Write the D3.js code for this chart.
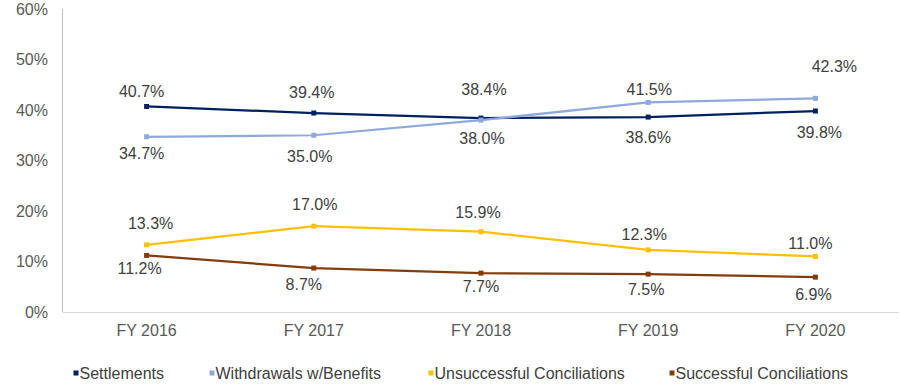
<!DOCTYPE html>
<html><head><meta charset="utf-8">
<script src="https://cdn.jsdelivr.net/npm/d3@7/dist/d3.min.js"></script>
<style>body{margin:0;background:#fff;}svg{display:block;font-family:"Liberation Sans",Arial,sans-serif;}</style>
</head><body><svg id="c" width="900" height="385"></svg>
<script>
const categories = ["FY 2016","FY 2017","FY 2018","FY 2019","FY 2020"];
const seriesNames = ["Settlements","Withdrawals w/Benefits","Unsuccessful Conciliations","Successful Conciliations"];
const settlements = [40.7,39.4,38.4,38.6,39.8];
const withdrawals = [34.7,35.0,38.0,41.5,42.3];
const unsuccessful = [13.3,17.0,15.9,12.3,11.0];
const successful = [11.2,8.7,7.7,7.5,6.9];
const yTicks = [0,10,20,30,40,50,60];
const colors = ["#002060","#8EA9DB","#FFC000","#843C0C"];

// label layout (pixel offsets of each data label from its point)
const labelDx = [[-5,-2,3,0,4],[-5,-4,1,1,19],[4,1,-3,-4,-5],[-7,-10,0,-2,-2]];
const labelDy = [[-15,-21,-29,20,21],[17,21,18,-13,-32],[-21,-22,-19,-15,-13],[13,16,13,15,17]];

const series = [
  {name:seriesNames[0], values:settlements, color:colors[0]},
  {name:seriesNames[1], values:withdrawals, color:colors[1]},
  {name:seriesNames[2], values:unsuccessful, color:colors[2]},
  {name:seriesNames[3], values:successful, color:colors[3]}
];

const svg = d3.select("#c");
const pL = 63, pR = 899, pT = 9, pB = 312;
const x = d3.scalePoint().domain(categories).range([pL, pR]).padding(0.5);
const y = d3.scaleLinear().domain([0,60]).range([pB, pT]);

// axes
svg.append("line").attr("x1",pL-0.5).attr("x2",pL-0.5).attr("y1",pT).attr("y2",pB)
  .attr("stroke","#bfbfbf").attr("stroke-width",1);
svg.append("line").attr("x1",pL).attr("x2",pR).attr("y1",pB+0.5).attr("y2",pB+0.5)
  .attr("stroke","#d9d9d9").attr("stroke-width",1);

svg.selectAll(".yt").data(yTicks).enter().append("text")
  .attr("x",48).attr("y",d=>y(d)).attr("dy","0.35em").attr("text-anchor","end")
  .attr("font-size",16).attr("fill","#595959").text(d=>d+"%");

svg.selectAll(".xt").data(categories).enter().append("text")
  .attr("x",d=>x(d)).attr("y",330).attr("dy","0.35em").attr("text-anchor","middle")
  .attr("font-size",16).attr("fill","#595959").text(d=>d);

const line = d3.line().x((d,i)=>x(categories[i])).y(d=>y(d));

series.forEach((s,si)=>{
  const g = svg.append("g");
  g.append("path").datum(s.values).attr("d",line).attr("fill","none")
    .attr("stroke",s.color).attr("stroke-width",2.25);
  g.selectAll("rect").data(s.values).enter().append("rect")
    .attr("x",(d,i)=>x(categories[i])-2.5).attr("y",d=>y(d)-2.5)
    .attr("width",5).attr("height",5).attr("fill",s.color);
  g.selectAll("text").data(s.values).enter().append("text")
    .attr("x",(d,i)=>x(categories[i])+labelDx[si][i]).attr("y",(d,i)=>y(d)+labelDy[si][i])
    .attr("dy","0.35em").attr("text-anchor","middle").attr("font-size",16)
    .attr("fill","#404040").text(d=>d.toFixed(1)+"%");
});

// legend
const legX = [76,212,431,672];
series.forEach((s,i)=>{
  svg.append("rect").attr("x",legX[i]-2.5).attr("y",373-2.5).attr("width",5).attr("height",5).attr("fill",s.color);
  svg.append("text").attr("x",legX[i]+3.5).attr("y",373).attr("dy","0.35em")
    .attr("font-size",16).attr("fill","#404040").text(s.name);
});
</script></body></html>
